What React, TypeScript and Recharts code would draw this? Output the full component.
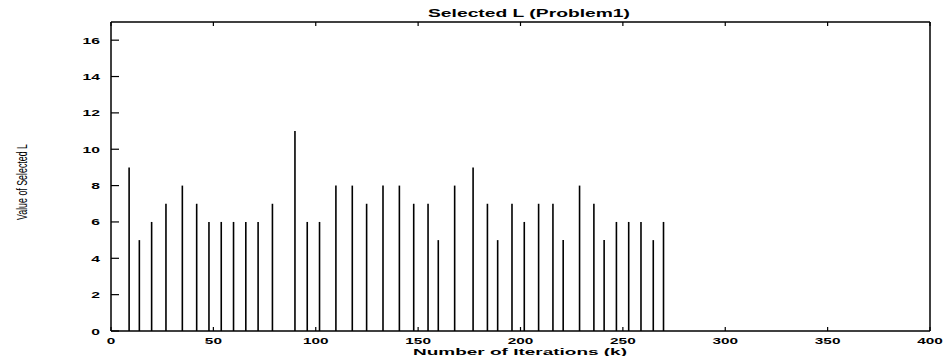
import { ComposedChart, Bar, XAxis, YAxis } from "recharts";

// iteration k at which a new L was selected, and the selected value
const iterations = [
  9, 14, 20, 27, 35, 42, 48, 54, 60, 66, 72, 79, 90, 96, 102, 110, 118, 125, 133, 141,
  148, 155, 160, 168, 177, 184, 189, 196, 202, 209, 216, 221, 229, 236, 241, 247, 253, 259, 265, 270,
];
const selectedL = [
  9, 5, 6, 7, 8, 7, 6, 6, 6, 6, 6, 7, 11, 6, 6, 8, 8, 7, 8, 8,
  7, 7, 5, 8, 9, 7, 5, 7, 6, 7, 7, 5, 8, 7, 5, 6, 6, 6, 5, 6,
];
const xTicks = [0, 50, 100, 150, 200, 250, 300, 350, 400];
const yTicks = [0, 2, 4, 6, 8, 10, 12, 14, 16];

const data = iterations.map((k, i) => ({ k, L: selectedL[i] }));

const W = 947;
const H = 356;
const LEFT = 111;
const RIGHT = 930;
const TOP = 22;
const BOTTOM = 331;
const FONT = "'Liberation Sans', Arial, Helvetica, sans-serif";
const STRETCH = 1.6;

function WideText({ x, y, anchor, size, bold, children }: any) {
  return (
    <text
      transform={`translate(${x},${y}) scale(${STRETCH},1)`}
      textAnchor={anchor}
      fontSize={size}
      fontWeight={bold ? "bold" : "normal"}
      fontFamily={FONT}
      fill="#000"
    >
      {children}
    </text>
  );
}

// label stretched to a fixed length, as in the scanned figure
function FitText({ x, y, len, size, bold, rotate, children }: any) {
  return (
    <text
      x={rotate ? 0 : x - len / 2}
      y={rotate ? 0 : y}
      transform={rotate ? `translate(${x},${y}) rotate(-90) translate(${-len / 2},0)` : undefined}
      textLength={len}
      lengthAdjust="spacingAndGlyphs"
      fontSize={size}
      fontWeight={bold ? "bold" : "normal"}
      fontFamily={FONT}
      fill="#000"
    >
      {children}
    </text>
  );
}

const LeftTick = (props: any) => {
  const y = props.payload.coordinate;
  return (
    <g>
      <line x1={LEFT} y1={y} x2={LEFT + 8} y2={y} stroke="#000" strokeWidth={1.2} />
      <WideText x={LEFT - 11} y={y + 3.5} anchor="end" size={9.8} bold>
        {props.payload.value}
      </WideText>
    </g>
  );
};

const RightTick = (props: any) => {
  const y = props.payload.coordinate;
  return <line x1={RIGHT} y1={y} x2={RIGHT - 8} y2={y} stroke="#000" strokeWidth={1.2} />;
};

const BottomTick = (props: any) => {
  const x = props.payload.coordinate;
  return (
    <g>
      <line x1={x} y1={BOTTOM} x2={x} y2={BOTTOM - 4} stroke="#000" strokeWidth={1.2} />
      <WideText x={x} y={BOTTOM + 12.8} anchor="middle" size={9.6} bold>
        {props.payload.value}
      </WideText>
    </g>
  );
};

const TopTick = (props: any) => {
  const x = props.payload.coordinate;
  return <line x1={x} y1={TOP} x2={x} y2={TOP + 4} stroke="#000" strokeWidth={1.2} />;
};

export default function App() {
  return (
    <div style={{ position: "absolute", left: 0, top: 0, width: W, height: H, background: "#fff" }}>
      <ComposedChart
        width={W}
        height={H}
        data={data}
        margin={{ top: 0, right: 0, bottom: 0, left: 0 }}
      >
        <XAxis
          xAxisId="b"
          dataKey="k"
          type="number"
          domain={[0, 400]}
          ticks={xTicks}
          height={H - BOTTOM}
          axisLine={{ stroke: "#000", strokeWidth: 1.5 }}
          tickLine={false}
          tick={<BottomTick />}
          interval={0}
        />
        <XAxis
          xAxisId="t"
          orientation="top"
          dataKey="k"
          type="number"
          domain={[0, 400]}
          ticks={xTicks}
          height={TOP}
          axisLine={{ stroke: "#000", strokeWidth: 1.5 }}
          tickLine={false}
          tick={<TopTick />}
          interval={0}
        />
        <YAxis
          yAxisId="l"
          type="number"
          domain={[0, 17]}
          ticks={yTicks}
          width={LEFT}
          axisLine={{ stroke: "#000", strokeWidth: 1.5 }}
          tickLine={false}
          tick={<LeftTick />}
          interval={0}
        />
        <YAxis
          yAxisId="r"
          orientation="right"
          type="number"
          domain={[0, 17]}
          ticks={yTicks}
          width={W - RIGHT}
          axisLine={{ stroke: "#000", strokeWidth: 1.5 }}
          tickLine={false}
          tick={<RightTick />}
          interval={0}
        />
        <Bar
          xAxisId="b"
          yAxisId="l"
          dataKey="L"
          fill="#000"
          barSize={1.6}
          isAnimationActive={false}
        />
        <FitText x={529} y={16.5} len={202} size={11.5} bold>
          Selected L (Problem1)
        </FitText>
        <FitText x={520} y={355} len={214} size={9.5} bold>
          Number of Iterations (k)
        </FitText>
        <FitText x={27} y={182} len={76} size={14} rotate>
          Value of Selected L
        </FitText>
      </ComposedChart>
    </div>
  );
}
